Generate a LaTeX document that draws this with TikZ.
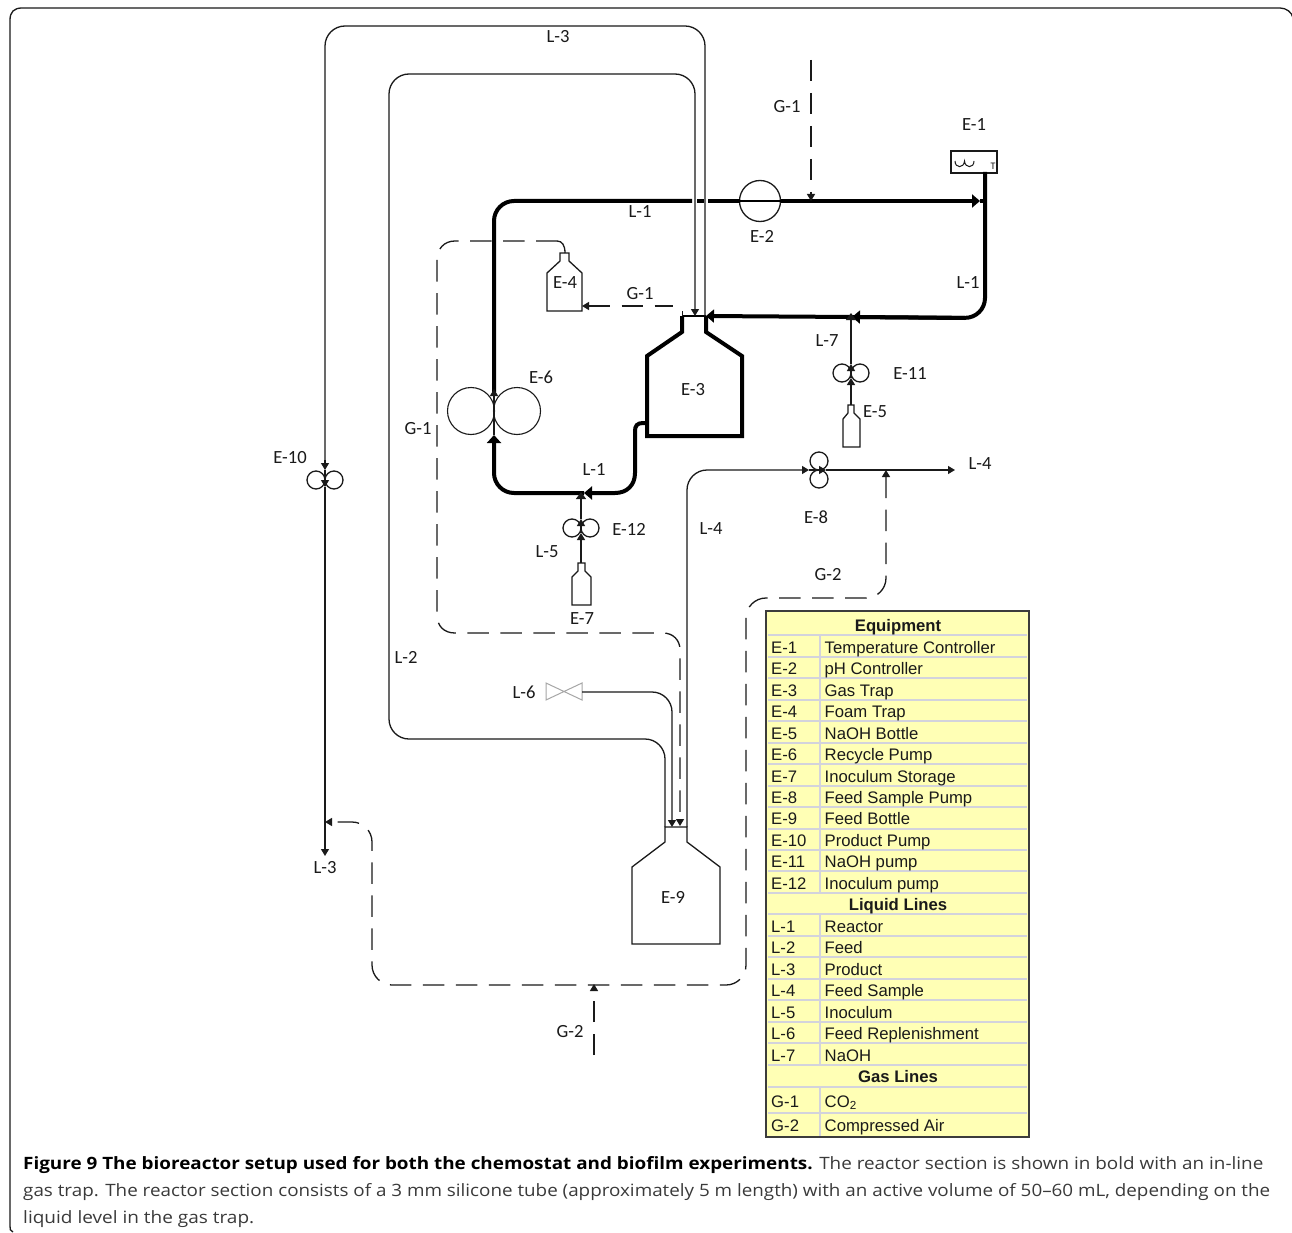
\documentclass[tikz,border=0pt]{standalone}
\usepackage{fontspec}
\usetikzlibrary{arrows.meta}
\setmainfont{Carlito}
\newfontfamily\tablefont{Liberation Sans}
\newfontfamily\capfont{Open Sans}
\definecolor{ink}{HTML}{1A1A1A}
\definecolor{tabfill}{HTML}{FFFFB5}
\definecolor{tabgrid}{HTML}{D3D3DC}
\definecolor{captxt}{HTML}{3A3A3A}
\tikzset{
 x=1pt,y=-1pt,
 pipe/.style={draw=ink,line width=1.3pt,rounded corners=20pt,line join=round},
 thickpipe/.style={draw=black,line width=4pt,rounded corners=20pt},
 gas/.style={draw=ink,line width=1.3pt,rounded corners=20pt,dash pattern=on 21.5pt off 11.5pt},
 sa/.style={-{Triangle[length=7pt,width=8pt]}},
 la/.style={-{Triangle[length=8pt,width=13pt]}},
 lbl/.style={font=\fontsize{18.6}{20}\selectfont,text=ink,inner sep=0pt},
 pump/.style={circle,draw=ink,line width=1.3pt,inner sep=0pt,minimum size=18pt},
 bigpump/.style={circle,draw=ink,line width=1.1pt,inner sep=0pt,minimum size=47pt},
 vessel/.style={draw=ink,line width=1.3pt,line join=miter},
 tabtxt/.style={font=\tablefont\fontsize{16.7}{18}\selectfont,text=ink,inner sep=0pt,anchor=base west},
 tabhead/.style={font=\tablefont\bfseries\fontsize{16.7}{18}\selectfont,text=ink,inner sep=0pt,anchor=base},
 grid/.style={draw=tabgrid,line width=2pt},
}
\begin{document}
\begin{tikzpicture}
\useasboundingbox (0,0) rectangle (1292,1233);
\fill[white] (0,0) rectangle (1292,1233);
% frame
\draw[ink,line width=1.3pt] (13,1232) .. controls (10,1231) and (10,1229) .. (10,1226) -- (10,20)
  .. controls (10,12) and (14,8) .. (22,8) -- (1280,8) .. controls (1286,8) and (1292,12) .. (1293,18);

% ---------- equipment ----------
\node[draw=ink,line width=1.5pt,minimum width=46pt,minimum height=22pt,inner sep=0pt] (E1) at (974,162) {};
\draw[ink,line width=1pt] (955,161) .. controls (955,168.5) and (964,168.5) .. (964.5,161) .. controls (965,168.5) and (974,168.5) .. (974,161);
\node[font=\fontsize{10}{10}\selectfont,text=ink,inner sep=0pt] (E1T) at (993,166) {T};
\node[circle,draw=ink,line width=1.3pt,inner sep=0pt,minimum size=41pt] (E2) at (760,201) {};
\node[bigpump] (E6a) at (471,411) {};
\node[bigpump] (E6b) at (517,411) {};
\node[pump] (E11a) at (842,373) {};
\node[pump] (E11b) at (860,373) {};
\node[pump] (E12a) at (572,528) {};
\node[pump] (E12b) at (590,528) {};
\node[pump] (E10a) at (316,480) {};
\node[pump] (E10b) at (334,480) {};
\node[pump] (E8a) at (819,461) {};
\node[pump] (E8b) at (819,479) {};
% E-3
\draw[black,line width=4pt,line join=miter] (682,316) -- (682,332) -- (647,356) -- (647,436) -- (742,436) -- (742,356) -- (706,332) -- (706,316);
\draw[black,line width=2pt] (682,316) -- (706,316);
\draw[ink,line width=1pt] (682,311) -- (682,316);
% E-4
\draw[vessel] (560,261) -- (560,253) -- (569,253) -- (569,261) -- (582,273) -- (582,311) -- (547,311) -- (547,273) -- cycle;
% E-5
\draw[vessel] (848,405) -- (854,405) -- (854,413) -- (860,419) -- (860,447) -- (843,447) -- (843,419) -- (848,413) -- cycle;
% E-7
\draw[vessel] (578,563) -- (585,563) -- (585,571) -- (591,577) -- (591,605) -- (572,605) -- (572,577) -- (578,571) -- cycle;
% E-9
\draw[vessel] (665,827) -- (687,827) -- (687,842) -- (720,867) -- (720,944) -- (632,944) -- (632,867) -- (665,842) -- cycle;
% valve
\draw[draw=gray!70,line width=1pt] (546,683) -- (582,700) -- (582,683) -- (546,700) -- cycle;

% ---------- named points ----------
\coordinate (top1) at (494,392);
\coordinate (e6in) at (494,435);
\coordinate (tc) at (494,201);
\coordinate (gapL) at (692,201);
\coordinate (dotL) at (697,201);
\coordinate (dotR) at (704,201);
\coordinate (gapR) at (708,201);
\coordinate (e2L) at (740,201);
\coordinate (e2R) at (781,201);
\coordinate (tipR) at (980,201);
\coordinate (jR) at (985,201);
\coordinate (e1b) at (985,172);
\coordinate (rc) at (985,318);
\coordinate (j7) at (852,317);
\coordinate (e3in) at (706,316);
\coordinate (bl) at (494,493);
\coordinate (j5) at (584,493);
\coordinate (j5u) at (581,492);
\coordinate (j7u) at (851,313);
\coordinate (e3s) at (648,423);
% ---------- reactor loop ----------
\draw[thickpipe,{Triangle[length=8pt,width=14pt]}-] (e6in) -- (bl) -- (j5);
\draw[draw=black,line width=4pt,-{Triangle[length=8pt,width=13pt]}] (e3s) -- (643,423) .. controls (637,423) and (635,426) .. (635,431) -- (635,473) .. controls (635,485) and (627,493) .. (615,493) -- (j5);
\draw[thickpipe] (top1) -- (tc) -- (gapL);
\draw[thickpipe] (dotL) -- (dotR);
\draw[thickpipe] (gapR) -- (e2L);
\draw[draw=black,line width=2pt] (e2L) -- (e2R);
\draw[thickpipe,la] (e2R) -- (tipR);
\draw[thickpipe] (tipR) -- (jR);
\draw[thickpipe] (e1b) -- (rc) -- (j7);
\draw[thickpipe,la] (rc) ++(-20,0) -- (j7);
\draw[thickpipe,la] (j7) -- (e3in);
% thin run through the recycle pump
\draw[pipe] (e6in) -- (top1);
\draw[pipe,sa] (494,397) -- (494,389);

% ---------- L-2 ----------
\coordinate (e9L2) at (665,827);
\coordinate (e3L2) at (695,316);
\draw[pipe,sa] (e9L2) -- (665,739) -- (389,739) -- (389,74) -- (695,74) -- (e3L2);
% ---------- L-3 ----------
\coordinate (l3end) at (325,856);
\coordinate (l3t) at (705,316);
\draw[pipe] (l3t) -- (705,26) -- (325,26) -- (325,469);
\draw[pipe,sa] (325,460) -- (325,470);
\draw[pipe] (325,470) -- (325,486);
\draw[pipe,sa] (325,478) -- (325,487);
\draw[pipe,sa] (325,487) -- (l3end);
% ---------- L-4 ----------
\coordinate (e9L4) at (687,827);
\coordinate (e8l) at (809,470);
\coordinate (e8r) at (826,470);
\coordinate (l4end) at (955,470);
\draw[pipe,sa] (e9L4) -- (687,470) -- (e8l);
\draw[pipe,sa] (e8l) -- (e8r);
\draw[pipe,sa] (e8r) -- (l4end);
% ---------- L-5 ----------
\coordinate (e7t) at (581,563);
\draw[pipe,sa] (e7t) -- (581,533);
\draw[pipe,sa] (581,533) -- (581,519);
\draw[pipe,-{Triangle[length=7pt,width=10pt]}] (581,519) -- (j5u);
% ---------- L-7 ----------
\coordinate (e5t) at (851,405);
\draw[pipe,sa] (e5t) -- (851,378);
\draw[pipe,sa] (851,378) -- (851,364);
\draw[pipe,-{Triangle[length=7pt,width=10pt]}] (851,364) -- (j7u);
% ---------- L-6 ----------
\coordinate (v6) at (582,692);
\coordinate (e9L6) at (672,827);
\draw[pipe,sa] (v6) -- (672,692) -- (e9L6);

% ---------- gas lines ----------
\coordinate (g1top) at (811,60);
\coordinate (g1j) at (811,201);
\draw[gas,sa] (g1top) -- (g1j);
\coordinate (g1s) at (673,306);
\coordinate (g1e) at (582,306);
\draw[gas,{Triangle[length=7pt,width=8pt]}-] (g1e) -- (g1s);
\coordinate (e4t) at (565,253);
\coordinate (e9g) at (680,826);
\coordinate (g1m) at (437,260);
\draw[gas,sa,rounded corners=0pt] (g1m) -- (437,615) .. controls (437,626) and (444,633) .. (455,633)
  -- (663,633) .. controls (673,633) and (680,640) .. (680,650) -- (e9g);
\draw[gas,dash phase=21.5pt,rounded corners=0pt] (g1m) .. controls (437,249) and (444,241) .. (455,241) -- (557,241);
\draw[draw=ink,line width=1.3pt] (557,241) .. controls (562,241) and (565,245) .. (e4t);
\coordinate (g2a) at (886,470);
\coordinate (g2e) at (325,822);
\draw[gas,{Triangle[length=7pt,width=8pt]}-{Triangle[length=7pt,width=8pt]}] (g2a) -- (886,598) -- (746,598) -- (746,985) -- (372,985) -- (372,822) -- (g2e);
\coordinate (g2in) at (594,1055);
\coordinate (g2j) at (594,984);
\draw[gas,sa] (g2in) -- (g2j);

% ---------- labels ----------
\node[lbl] (lE1) at (974,125) {E-1};
\node[lbl] (lE2) at (762,236) {E-2};
\node[lbl] (lE3) at (693,390) {E-3};
\node[lbl] (lE4) at (565,283) {E-4};
\node[lbl] (lE5) at (875,412) {E-5};
\node[lbl] (lE6) at (541,377) {E-6};
\node[lbl] (lE7) at (582,619) {E-7};
\node[lbl] (lE8) at (816,517) {E-8};
\node[lbl] (lE9) at (673,897) {E-9};
\node[lbl] (lE10) at (290,458) {E-10};
\node[lbl] (lE11) at (910,374) {E-11};
\node[lbl] (lE12) at (629,529) {E-12};
\node[lbl] (lL1a) at (640,212) {L-1};
\node[lbl] (lL1b) at (968,283) {L-1};
\node[lbl] (lL1c) at (594,470) {L-1};
\node[lbl] (lL2) at (406,657) {L-2};
\node[lbl] (lL3a) at (558,37) {L-3};
\node[lbl] (lL3b) at (325,868) {L-3};
\node[lbl] (lL4a) at (980,464) {L-4};
\node[lbl] (lL4b) at (711,529) {L-4};
\node[lbl] (lL5) at (547,552) {L-5};
\node[lbl] (lL6) at (524,692) {L-6};
\node[lbl] (lL7) at (827,341) {L-7};
\node[lbl] (lG1a) at (787,107) {G-1};
\node[lbl] (lG1b) at (640,294) {G-1};
\node[lbl] (lG1c) at (418,429) {G-1};
\node[lbl] (lG2a) at (828,575) {G-2};
\node[lbl] (lG2b) at (570,1032) {G-2};

% ---------- table ----------
\fill[tabfill] (766,611) rectangle (1029,1137);
\foreach \yy in {635,657,678,700,721,743,764,786,807,829,850,871,893,914,936,957,979,1000,1022,1043,1065,1087,1113}
  \draw[grid] (768,\yy) -- (1027,\yy);
\draw[grid] (820,635) -- (820,893);
\draw[grid] (820,914) -- (820,1065);
\draw[grid] (820,1087) -- (820,1136);
\draw[draw=ink!85,line width=2pt] (766,611) rectangle (1029,1137);
\node[tabhead] (hE) at (898,631) {Equipment};
\node[tabhead] (hL) at (898,910) {Liquid Lines};
\node[tabhead] (hG) at (898,1082) {Gas Lines};
\foreach \k/\d/\yy/\nm in {E-1/Temperature Controller/653/a,E-2/pH Controller/674/b,E-3/Gas Trap/696/c,E-4/Foam Trap/717/d,E-5/NaOH Bottle/739/e,E-6/Recycle Pump/760/f,E-7/Inoculum Storage/782/g,E-8/Feed Sample Pump/803/h,E-9/Feed Bottle/824/i,E-10/Product Pump/846/j,E-11/NaOH pump/867/k,E-12/Inoculum pump/889/l,L-1/Reactor/932/m,L-2/Feed/953/n,L-3/Product/975/o,L-4/Feed Sample/996/p,L-5/Inoculum/1018/q,L-6/Feed Replenishment/1039/r,L-7/NaOH/1061/s,G-1/{CO\textsubscript{2}}/1107/t,G-2/Compressed Air/1131/u}{
  \node[tabtxt] (k\nm) at (771,\yy) {\k};
  \node[tabtxt] (d\nm) at (824.5,\yy) {\d};
}

% ---------- caption ----------
\node[anchor=base west,inner sep=0pt,text=captxt] (cap1) at (23,1169) {\resizebox{1240pt}{\height}{\capfont\fontsize{17}{20}\selectfont{\color{black}\bfseries Figure 9 The bioreactor setup used for both the chemostat and biofilm experiments.} The reactor section is shown in bold with an in-line}};
\node[anchor=base west,inner sep=0pt,text=captxt] (cap2) at (23,1196) {\resizebox{1247pt}{\height}{\capfont\fontsize{17}{20}\selectfont gas trap. The reactor section consists of a 3 mm silicone tube (approximately 5 m length) with an active volume of 50–60 mL, depending on the}};
\node[anchor=base west,inner sep=0pt,text=captxt] (cap3) at (23,1223) {\resizebox{231pt}{\height}{\capfont\fontsize{17}{20}\selectfont liquid level in the gas trap.}};
\end{tikzpicture}
\end{document}
